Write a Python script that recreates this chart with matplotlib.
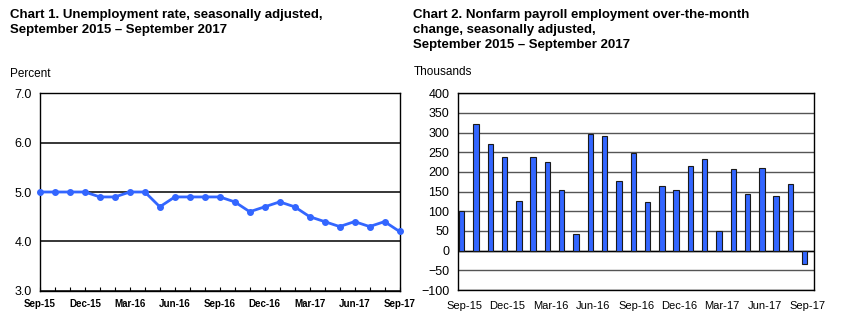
import matplotlib
matplotlib.use("Agg")
import matplotlib.pyplot as plt
import numpy as np

plt.rcParams['font.family'] = ['Liberation Sans', 'DejaVu Sans']

months = ["Sep-15", "Oct-15", "Nov-15", "Dec-15", "Jan-16", "Feb-16", "Mar-16",
          "Apr-16", "May-16", "Jun-16", "Jul-16", "Aug-16", "Sep-16", "Oct-16",
          "Nov-16", "Dec-16", "Jan-17", "Feb-17", "Mar-17", "Apr-17", "May-17",
          "Jun-17", "Jul-17", "Aug-17", "Sep-17"]
unemployment = [5.0, 5.0, 5.0, 5.0, 4.9, 4.9, 5.0, 5.0, 4.7, 4.9, 4.9, 4.9, 4.9,
                4.8, 4.6, 4.7, 4.8, 4.7, 4.5, 4.4, 4.3, 4.4, 4.3, 4.4, 4.2]
payrolls = [100, 321, 272, 239, 126, 237, 225, 153, 43, 297, 291, 176, 249,
            124, 164, 155, 216, 232, 50, 207, 145, 210, 138, 169, -33]

blue = "#3366ff"
x = np.arange(len(months))
tick_idx = x[::3]

fig = plt.figure(figsize=(8.47, 3.35), dpi=100)

# Chart 1
ax1 = fig.add_axes([0.0472, 0.1322, 0.4245, 0.5893])
ax1.plot(x, unemployment, color=blue, lw=2.0, marker="o", ms=4, clip_on=False, zorder=3)
ax1.set_xlim(0, 24)
ax1.set_ylim(3.0, 7.0)
ax1.set_yticks([3, 4, 5, 6, 7])
ax1.set_yticklabels(["3.0", "4.0", "5.0", "6.0", "7.0"], fontsize=9)
ax1.set_xticks(x, minor=True)
ax1.set_xticks(tick_idx)
ax1.set_xticklabels([months[i] for i in tick_idx], fontsize=7, fontweight="bold")
ax1.tick_params(axis="x", which="both", direction="in", length=3, width=0.8, pad=6)
ax1.tick_params(axis="y", length=0, pad=6)
ax1.grid(axis="y", color="black", lw=1.1)
ax1.set_axisbelow(True)
for s in ax1.spines.values():
    s.set_linewidth(1.0)

# Chart 2
ax2 = fig.add_axes([0.5404, 0.1343, 0.4210, 0.5872])
ax2.bar(x, payrolls, width=0.38, color=blue, edgecolor="#1a1a1a", lw=0.8, zorder=3)
ax2.set_xlim(-0.28, 24.67)
ax2.set_ylim(-100, 400)
ax2.set_yticks(np.arange(-100, 401, 50))
ax2.tick_params(axis="y", labelsize=9, length=0, pad=6)
ax2.set_xticks(tick_idx + 0.2)
ax2.set_xticklabels([months[i] for i in tick_idx], fontsize=8)
ax2.tick_params(axis="x", length=0, pad=8)
ax2.grid(axis="y", color="#555555", lw=1.0)
ax2.axhline(0, color="black", lw=1.0, zorder=2)
ax2.set_axisbelow(True)
for s in ax2.spines.values():
    s.set_linewidth(1.0)

# titles
fig.text(10 / 847, 1 - 9 / 335,
         "Chart 1. Unemployment rate, seasonally adjusted,\nSeptember 2015 \u2013 September 2017",
         fontsize=9.5, fontweight="bold", va="top", ha="left", linespacing=1.33)
fig.text(413 / 847, 1 - 9 / 335,
         "Chart 2. Nonfarm payroll employment over-the-month\nchange, seasonally adjusted,\nSeptember 2015 \u2013 September 2017",
         fontsize=9.5, fontweight="bold", va="top", ha="left", linespacing=1.33)
fig.text(10 / 847, 1 - 74 / 335, "Percent", fontsize=8.5, va="center", ha="left")
fig.text(414 / 847, 1 - 72 / 335, "Thousands", fontsize=8.5, va="center", ha="left")

fig.savefig("out.png", dpi=100)
